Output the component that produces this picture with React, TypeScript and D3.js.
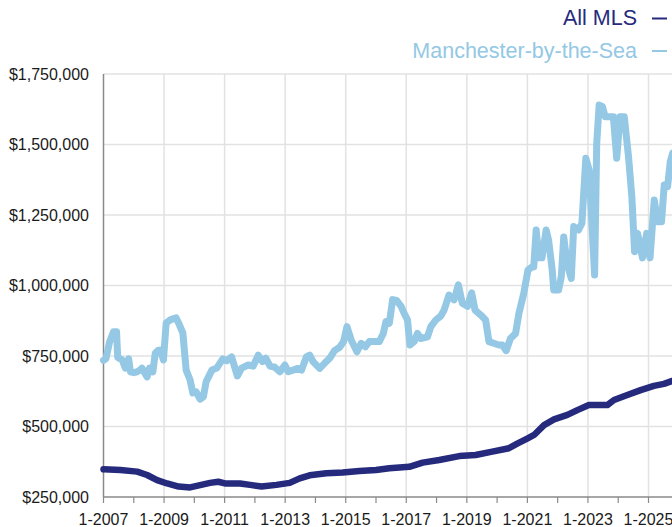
import * as d3 from "d3";
import { useEffect, useRef } from "react";

// Median price, decimal year -> dollars (thousands)
const mlsYears = [2007.0, 2007.56, 2008.11, 2008.44, 2008.77, 2009.1, 2009.48, 2009.86, 2010.19, 2010.52, 2010.79, 2011.01, 2011.51, 2011.84, 2012.22, 2012.71, 2013.15, 2013.48, 2013.81, 2014.36, 2014.9, 2015.45, 2016.0, 2016.44, 2017.1, 2017.54, 2018.09, 2018.75, 2019.29, 2019.84, 2020.39, 2020.68, 2021.01, 2021.22, 2021.55, 2021.88, 2022.32, 2022.65, 2023.03, 2023.64, 2023.86, 2024.3, 2024.74, 2025.18, 2025.51, 2025.79, 2025.9];
const mlsValues = [348, 346, 340, 328, 310, 298, 287, 284, 292, 300, 304, 298, 298, 293, 287, 293, 300, 316, 327, 334, 337, 342, 346, 352, 357, 372, 381, 395, 399, 411, 423, 440, 458, 470, 505, 525, 541, 558, 576, 576, 594, 612, 629, 644, 651, 662, 665];

const mbtsYears = [2007.0, 2007.08, 2007.2, 2007.33, 2007.43, 2007.47, 2007.62, 2007.72, 2007.83, 2007.89, 2008.0, 2008.11, 2008.2, 2008.27, 2008.44, 2008.52, 2008.63, 2008.71, 2008.8, 2008.88, 2008.98, 2009.07, 2009.2, 2009.4, 2009.48, 2009.62, 2009.73, 2009.86, 2009.95, 2010.06, 2010.19, 2010.3, 2010.39, 2010.58, 2010.74, 2010.94, 2011.07, 2011.23, 2011.42, 2011.56, 2011.78, 2011.94, 2012.11, 2012.25, 2012.36, 2012.5, 2012.66, 2012.83, 2012.99, 2013.1, 2013.26, 2013.42, 2013.54, 2013.7, 2013.81, 2013.92, 2014.14, 2014.3, 2014.47, 2014.63, 2014.8, 2014.93, 2015.04, 2015.18, 2015.37, 2015.51, 2015.65, 2015.78, 2016.11, 2016.24, 2016.33, 2016.44, 2016.55, 2016.68, 2016.83, 2016.93, 2017.04, 2017.12, 2017.26, 2017.37, 2017.48, 2017.7, 2017.81, 2017.98, 2018.14, 2018.25, 2018.41, 2018.58, 2018.72, 2018.85, 2019.02, 2019.16, 2019.27, 2019.46, 2019.62, 2019.73, 2019.89, 2020.06, 2020.17, 2020.3, 2020.44, 2020.61, 2020.72, 2020.88, 2021.02, 2021.15, 2021.21, 2021.29, 2021.38, 2021.48, 2021.62, 2021.7, 2021.82, 2021.87, 2022.03, 2022.12, 2022.2, 2022.31, 2022.45, 2022.53, 2022.69, 2022.8, 2022.93, 2023.04, 2023.13, 2023.22, 2023.29, 2023.37, 2023.48, 2023.57, 2023.84, 2023.95, 2024.06, 2024.2, 2024.34, 2024.45, 2024.54, 2024.64, 2024.8, 2024.94, 2025.05, 2025.19, 2025.3, 2025.43, 2025.52, 2025.63, 2025.72, 2025.8];
const mbtsValues = [735, 740, 800, 836, 836, 745, 736, 707, 740, 694, 691, 694, 700, 707, 676, 707, 694, 760, 770, 771, 736, 867, 878, 885, 867, 832, 700, 665, 619, 623, 597, 606, 659, 700, 707, 740, 733, 747, 679, 707, 718, 714, 753, 730, 742, 714, 710, 694, 718, 694, 700, 706, 700, 747, 753, 730, 706, 724, 742, 769, 781, 801, 854, 807, 765, 795, 783, 801, 801, 830, 872, 866, 950, 947, 926, 901, 878, 789, 801, 830, 812, 818, 854, 878, 892, 913, 966, 949, 1002, 937, 926, 974, 913, 895, 878, 801, 795, 789, 789, 769, 812, 830, 901, 972, 1055, 1066, 1066, 1197, 1098, 1098, 1197, 1161, 1055, 984, 984, 1031, 1172, 1078, 1025, 1209, 1197, 1220, 1451, 1410, 1220, 1037, 1504, 1640, 1634, 1598, 1598, 1451, 1598, 1598, 1457, 1315, 1120, 1185, 1098, 1185, 1098, 1303, 1226, 1226, 1356, 1351, 1440, 1470];

const yTicks = [250000, 500000, 750000, 1000000, 1250000, 1500000, 1750000];
const xLabelYears = [2007, 2009, 2011, 2013, 2015, 2017, 2019, 2021, 2023, 2025];
const xMinorYears = d3.range(2007, 2027);

const seriesNames = ["All MLS", "Manchester-by-the-Sea"];
const colors = ["#262a7d", "#94c8e4"];

function drawChart(container: HTMLElement) {
  const width = 672;
  const height = 527;
  const font = "'Liberation Sans', Arial, Helvetica, sans-serif";

  const svg = d3.select(container)
    .append("svg")
    .attr("width", width)
    .attr("height", height)
    .style("display", "block")
    .style("font-family", font);

  const x = d3.scaleLinear([2007, 2025], [103.5, 648.5]);
  const y = d3.scaleLinear([250000, 1750000], [497, 74]);

  // grid
  svg.append("g")
    .attr("stroke", "#e2e2e2")
    .attr("stroke-width", 1.5)
    .selectAll("line.h")
    .data(yTicks.slice(1))
    .join("line")
    .attr("x1", x(2007))
    .attr("x2", width)
    .attr("y1", d => y(d))
    .attr("y2", d => y(d));

  svg.append("g")
    .attr("stroke", "#e2e2e2")
    .attr("stroke-width", 1.5)
    .selectAll("line")
    .data(xLabelYears.slice(1).concat([2027]))
    .join("line")
    .attr("x1", d => x(d))
    .attr("x2", d => x(d))
    .attr("y1", y(1750000))
    .attr("y2", y(250000));

  // axes
  const axisColor = "#8a8a8a";
  svg.append("line")
    .attr("x1", x(2007)).attr("x2", x(2007))
    .attr("y1", y(1750000)).attr("y2", y(250000))
    .attr("stroke", axisColor).attr("stroke-width", 1.5);
  svg.append("line")
    .attr("x1", x(2007)).attr("x2", width)
    .attr("y1", y(250000)).attr("y2", y(250000))
    .attr("stroke", axisColor).attr("stroke-width", 1.5);
  svg.append("g")
    .selectAll("line")
    .data(xMinorYears)
    .join("line")
    .attr("x1", d => x(d)).attr("x2", d => x(d))
    .attr("y1", y(250000)).attr("y2", y(250000) + 6)
    .attr("stroke", axisColor).attr("stroke-width", 1.2);

  const fmt = d3.format("$,");
  svg.append("g")
    .selectAll("text")
    .data(yTicks)
    .join("text")
    .attr("x", 89)
    .attr("y", d => y(d) + 5.5)
    .attr("text-anchor", "end")
    .attr("font-size", 16)
    .attr("fill", "#1a1a1a")
    .text(d => fmt(d));

  svg.append("g")
    .selectAll("text")
    .data(xLabelYears)
    .join("text")
    .attr("x", d => x(d))
    .attr("y", 525)
    .attr("text-anchor", "middle")
    .attr("font-size", 16)
    .attr("fill", "#1a1a1a")
    .text(d => `1-${d}`);

  // lines
  const line = d3.line<[number, number]>()
    .x(d => x(d[0]))
    .y(d => y(d[1] * 1000));

  const mbts: [number, number][] = mbtsYears.map((t, i) => [t, mbtsValues[i]]);
  const mls: [number, number][] = mlsYears.map((t, i) => [t, mlsValues[i]]);

  svg.append("path")
    .attr("d", line(mbts))
    .attr("fill", "none")
    .attr("stroke", colors[1])
    .attr("stroke-width", 7)
    .attr("stroke-linejoin", "round")
    .attr("stroke-linecap", "round");

  svg.append("path")
    .attr("d", line(mls))
    .attr("fill", "none")
    .attr("stroke", colors[0])
    .attr("stroke-width", 6.5)
    .attr("stroke-linejoin", "round")
    .attr("stroke-linecap", "round");

  // legend
  const legend = svg.append("g")
    .selectAll("g")
    .data(seriesNames)
    .join("g")
    .attr("transform", (_, i) => `translate(0, ${25 + i * 32.5})`);
  legend.append("text")
    .attr("x", 637)
    .attr("text-anchor", "end")
    .attr("font-size", 21.5)
    .attr("fill", (_, i) => colors[i])
    .text(d => d);
  legend.append("line")
    .attr("x1", 652).attr("x2", 667)
    .attr("y1", -6.5).attr("y2", -6.5)
    .attr("stroke", (_, i) => colors[i])
    .attr("stroke-width", 2);
}

export default function App() {
  const domRef = useRef<HTMLDivElement>(null);
  useEffect(() => {
    document.body.style.margin = "0";
    if (domRef.current) {
      drawChart(domRef.current);
    }
    return () => {
      if (domRef.current) {
        d3.select(domRef.current).selectAll("svg").remove();
      }
    };
  }, []);
  return <div ref={domRef} style={{ width: 672, height: 527, overflow: "hidden" }}></div>;
}
